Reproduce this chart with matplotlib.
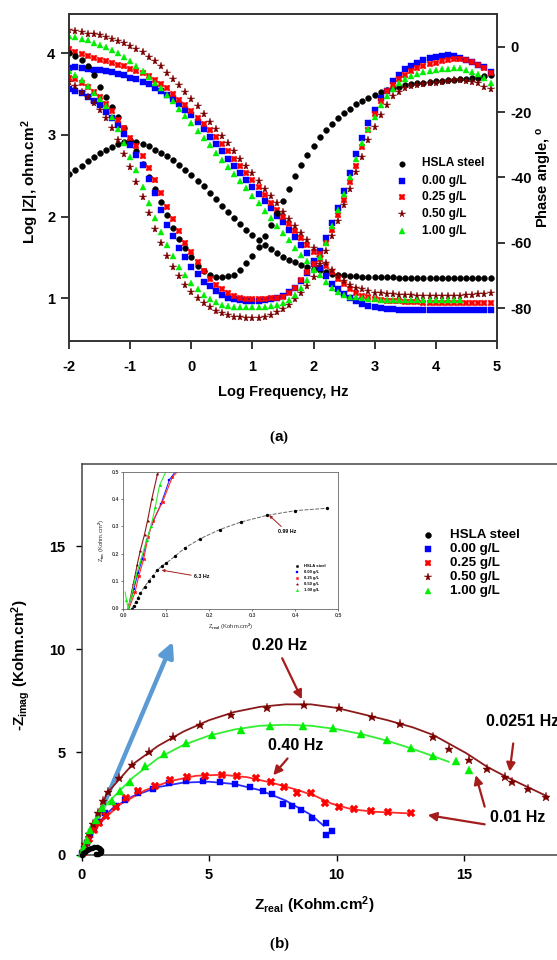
import matplotlib
matplotlib.use('Agg')
import matplotlib.pyplot as plt

plt.rcParams['font.family'] = ['Liberation Sans', 'DejaVu Sans']
plt.rcParams['font.weight'] = 'bold'
plt.rcParams['mathtext.fontset'] = 'custom'
plt.rcParams['mathtext.rm'] = 'Liberation Sans:bold'
plt.rcParams['mathtext.bf'] = 'Liberation Sans:bold'
plt.rcParams['mathtext.it'] = 'Liberation Sans:bold'
plt.rcParams['mathtext.default'] = 'bf'
plt.rcParams['axes.unicode_minus'] = False

# ---------------- data: Bode plot (a) ----------------
series_labels = ['HSLA steel', '0.00 g/L', '0.25 g/L', '0.50 g/L', '1.00 g/L']

log_freq = [-2.0, -1.9, -1.8, -1.7, -1.6, -1.5, -1.4, -1.3, -1.2, -1.1,
            -1.0, -0.9, -0.8, -0.7, -0.6, -0.5, -0.4, -0.3, -0.2, -0.1,
            0.0, 0.1, 0.2, 0.3, 0.4, 0.5, 0.6, 0.7, 0.8, 0.9,
            1.0, 1.1, 1.2, 1.3, 1.4, 1.5, 1.6, 1.7, 1.8, 1.9,
            2.0, 2.1, 2.2, 2.3, 2.4, 2.5, 2.6, 2.7, 2.8, 2.9,
            3.0, 3.1, 3.2, 3.3, 3.4, 3.5, 3.6, 3.7, 3.8, 3.9,
            4.0, 4.1, 4.2, 4.3, 4.4, 4.5, 4.6, 4.7, 4.8, 4.9]

hsla_logz = [2.52, 2.57, 2.62, 2.68, 2.73, 2.78, 2.82, 2.85, 2.89, 2.91,
             2.92, 2.91, 2.89, 2.86, 2.82, 2.78, 2.74, 2.69, 2.63, 2.57,
             2.51, 2.44, 2.37, 2.29, 2.21, 2.13, 2.06, 1.98, 1.91, 1.84,
             1.77, 1.71, 1.65, 1.60, 1.55, 1.51, 1.47, 1.44, 1.41, 1.38,
             1.36, 1.34, 1.32, 1.30, 1.29, 1.28, 1.27, 1.27, 1.265, 1.26,
             1.26, 1.26, 1.255, 1.255, 1.25, 1.25, 1.25, 1.25, 1.25, 1.25,
             1.25, 1.25, 1.25, 1.25, 1.25, 1.25, 1.25, 1.25, 1.25, 1.25]
blue_logz = [3.82, 3.83, 3.82, 3.81, 3.80, 3.79, 3.78, 3.77, 3.75, 3.73,
             3.70, 3.68, 3.65, 3.62, 3.58, 3.54, 3.49, 3.44, 3.38, 3.31,
             3.24, 3.16, 3.07, 2.98, 2.89, 2.80, 2.71, 2.62, 2.53, 2.45,
             2.36, 2.28, 2.19, 2.10, 2.01, 1.93, 1.84, 1.75, 1.65, 1.55,
             1.46, 1.37, 1.27, 1.18, 1.11, 1.05, 1.00, 0.96, 0.93, 0.91,
             0.89, 0.88, 0.87, 0.87, 0.86, 0.86, 0.86, 0.86, 0.86, 0.86,
             0.86, 0.86, 0.86, 0.86, 0.86, 0.86, 0.86, 0.86, 0.86, 0.86]
red_logz = [4.05, 4.02, 3.99, 3.96, 3.94, 3.92, 3.90, 3.88, 3.86, 3.84,
            3.81, 3.78, 3.76, 3.72, 3.67, 3.62, 3.57, 3.50, 3.43, 3.37,
            3.29, 3.21, 3.13, 3.06, 2.97, 2.89, 2.80, 2.71, 2.62, 2.53,
            2.45, 2.36, 2.26, 2.17, 2.08, 2.00, 1.91, 1.82, 1.74, 1.65,
            1.56, 1.48, 1.40, 1.32, 1.24, 1.17, 1.11, 1.06, 1.03, 1.01,
            0.99, 0.98, 0.97, 0.96, 0.96, 0.95, 0.95, 0.95, 0.94, 0.94,
            0.94, 0.94, 0.94, 0.94, 0.94, 0.94, 0.94, 0.94, 0.94, 0.94]
maroon_logz = [4.28, 4.27, 4.26, 4.24, 4.23, 4.22, 4.20, 4.17, 4.15, 4.12,
               4.09, 4.05, 4.01, 3.95, 3.90, 3.84, 3.76, 3.69, 3.61, 3.53,
               3.44, 3.35, 3.25, 3.16, 3.07, 2.99, 2.90, 2.80, 2.71, 2.62,
               2.53, 2.44, 2.34, 2.25, 2.16, 2.06, 1.97, 1.88, 1.80, 1.71,
               1.61, 1.51, 1.43, 1.35, 1.27, 1.21, 1.16, 1.13, 1.11, 1.09,
               1.07, 1.06, 1.05, 1.05, 1.04, 1.04, 1.04, 1.03, 1.03, 1.03,
               1.03, 1.03, 1.03, 1.03, 1.03, 1.04, 1.04, 1.05, 1.05, 1.06]
green_logz = [4.21, 4.20, 4.18, 4.16, 4.13, 4.10, 4.07, 4.04, 4.00, 3.95,
              3.90, 3.84, 3.78, 3.71, 3.64, 3.57, 3.49, 3.41, 3.32, 3.23,
              3.14, 3.05, 2.96, 2.87, 2.78, 2.69, 2.61, 2.52, 2.43, 2.35,
              2.25, 2.16, 2.07, 1.98, 1.89, 1.80, 1.71, 1.62, 1.53, 1.45,
              1.36, 1.28, 1.20, 1.13, 1.08, 1.04, 1.02, 1.01, 1.00, 0.99,
              0.99, 0.98, 0.98, 0.98, 0.98, 0.98, 0.98, 0.98, 0.98, 0.98,
              0.98, 0.98, 0.98, 0.98, 0.98]

hsla_phase = [-2.0, -2.8, -4.1, -5.9, -8.7, -12.4, -15.3, -18.6, -21.6, -25.0,
              -28.5, -31.8, -35.9, -39.8, -43.5, -47.5, -51.5, -55.4, -58.9, -61.7,
              -64.4, -67.0, -68.8, -69.9, -70.5, -70.6, -70.3, -69.8, -68.3, -66.3,
              -64.0, -61.2, -58.1, -54.5, -51.0, -47.2, -43.6, -39.6, -36.2, -33.3,
              -30.3, -27.8, -25.5, -23.6, -21.9, -20.4, -19.0, -17.6, -16.5, -15.6,
              -14.8, -14.0, -13.3, -12.7, -12.2, -11.8, -11.5, -11.2, -11.0, -10.8,
              -10.6, -10.5, -10.3, -10.2, -10.0, -9.9, -9.7, -9.5, -9.0, -8.7]
blue_phase = [-13.0, -13.5, -14.3, -15.3, -16.6, -17.8, -19.9, -21.9, -24.0, -26.8,
              -30.1, -33.1, -36.2, -40.5, -44.9, -49.9, -54.5, -57.8, -61.7, -64.5,
              -67.3, -69.6, -71.9, -73.4, -74.9, -75.9, -76.8, -77.3, -77.5, -77.7,
              -77.8, -77.8, -77.6, -77.2, -76.8, -76.2, -75.2, -73.8, -71.8, -69.3,
              -66.4, -62.5, -58.5, -54.0, -49.5, -44.2, -38.6, -32.9, -28.1, -23.5,
              -19.4, -15.8, -13.6, -10.5, -8.7, -6.9, -5.9, -4.9, -4.1, -3.4,
              -3.1, -2.8, -2.6, -2.9, -3.4, -4.1, -4.8, -5.6, -6.3, -7.7]
red_phase = [-9.5, -10.0, -11.0, -12.2, -13.8, -15.5, -17.5, -19.8, -22.3, -25.0,
             -28.0, -30.5, -33.5, -37.0, -40.7, -44.7, -49.0, -52.9, -56.5, -60.0,
             -63.0, -66.0, -68.7, -71.0, -72.8, -74.3, -75.5, -76.4, -76.9, -77.2,
             -77.3, -77.3, -77.2, -77.0, -76.8, -76.5, -75.5, -74.0, -71.5, -69.0,
             -66.5, -63.5, -60.0, -56.0, -51.5, -47.0, -41.5, -36.5, -30.6, -25.5,
             -20.7, -16.5, -13.5, -11.7, -10.0, -8.7, -7.6, -6.6, -5.8, -5.2,
             -4.9, -4.4, -4.0, -3.8, -3.9, -4.2, -4.6, -5.5, -6.6, -8.2]
maroon_phase = [-10.7, -12.0, -13.8, -15.3, -17.3, -19.4, -21.9, -25.0, -28.5, -32.8,
                -36.7, -41.3, -45.9, -51.0, -55.9, -60.0, -64.0, -67.3, -70.1, -72.9,
                -75.1, -77.0, -78.5, -79.7, -80.8, -81.5, -82.1, -82.6, -82.8, -82.9,
                -82.9, -82.9, -82.6, -82.1, -81.3, -80.3, -79.0, -77.3, -75.5, -73.2,
                -70.5, -66.5, -62.5, -58.0, -53.5, -48.5, -43.6, -38.5, -33.7, -28.5,
                -24.5, -20.9, -17.9, -15.1, -13.8, -12.6, -12.1, -11.6, -11.3, -11.1,
                -11.0, -10.7, -10.4, -10.2, -10.2, -10.4, -10.7, -11.2, -12.3, -13.1]
green_phase = [-7.6, -8.7, -10.2, -12.0, -14.1, -16.0, -18.3, -21.6, -25.3, -29.6,
               -33.8, -37.7, -43.1, -47.7, -52.5, -56.6, -60.7, -64.2, -67.3, -69.8,
               -72.2, -74.2, -75.9, -77.3, -78.3, -79.0, -79.5, -79.7, -79.8, -79.8,
               -79.8, -79.8, -79.7, -79.4, -79.0, -78.5, -77.5, -76.0, -74.0, -71.5,
               -68.5, -64.5, -60.0, -55.0, -50.0, -45.0, -40.0, -34.5, -29.5, -25.3,
               -21.4, -17.9, -15.1, -13.0, -11.2, -9.9, -9.0, -8.4, -7.9, -7.5,
               -7.2, -6.9, -6.7, -6.6, -6.6, -7.2, -7.7, -8.4, -9.7, -11.2]

# ---------------- data: Nyquist plot (b) ----------------
hsla_zr = [0.02, 0.06, 0.12, 0.20, 0.30, 0.40, 0.50, 0.60, 0.68, 0.74, 0.77, 0.76, 0.72, 0.65, 0.58]
hsla_zi = [0.00, 0.08, 0.16, 0.24, 0.31, 0.35, 0.37, 0.37, 0.34, 0.29, 0.22, 0.15, 0.09, 0.05, 0.04]

blue_zr = [0.03, 0.10, 0.20, 0.35, 0.50, 0.70, 0.92, 1.34, 1.72, 2.22, 2.82, 3.44, 4.10, 4.76,
           5.42, 6.02, 6.60, 7.10, 7.49, 7.90, 8.24, 8.60, 9.05, 9.58, 9.82, 9.58]
blue_zi = [0.05, 0.30, 0.60, 0.95, 1.25, 1.60, 2.05, 2.39, 2.68, 3.00, 3.20, 3.50, 3.62, 3.60,
           3.57, 3.47, 3.31, 3.12, 2.96, 2.47, 2.39, 2.20, 1.82, 1.55, 1.18, 0.99]
blue_fit_zr = [0.0, 0.3, 0.7, 1.2, 2.0, 3.0, 4.0, 5.0, 6.0, 7.0, 8.0, 9.0, 9.5]
blue_fit_zi = [0.0, 0.9, 1.6, 2.25, 2.85, 3.3, 3.52, 3.56, 3.45, 3.15, 2.65, 1.95, 1.42]

red_zr = [0.05, 0.15, 0.30, 0.50, 0.70, 0.95, 1.34, 1.73, 2.23, 2.87, 3.49, 4.15, 4.85, 5.50,
          6.11, 6.83, 7.45, 7.94, 8.47, 8.99, 9.54, 10.10, 10.67, 11.35, 12.00, 12.94]
red_zi = [0.10, 0.40, 0.80, 1.20, 1.55, 1.90, 2.35, 2.75, 3.12, 3.37, 3.64, 3.80, 3.86, 3.90,
          3.83, 3.72, 3.53, 3.29, 3.02, 2.99, 2.54, 2.35, 2.23, 2.15, 2.10, 2.02]
red_fit_zr = [0.0, 0.3, 0.8, 1.5, 2.5, 3.5, 4.5, 5.5, 6.5, 7.5, 8.5, 9.2, 9.8, 10.6, 11.5, 12.9]
red_fit_zi = [0.0, 0.8, 1.65, 2.45, 3.15, 3.6, 3.85, 3.9, 3.78, 3.5, 3.15, 2.85, 2.5, 2.22, 2.1, 2.02]

maroon_zr = [0.05, 0.15, 0.30, 0.45, 0.65, 0.85, 1.05, 1.46, 1.98, 2.65, 3.58, 4.63, 5.88, 7.27,
             8.71, 10.10, 11.40, 12.50, 13.80, 14.40, 15.20, 15.90, 16.60, 16.90, 17.50, 18.20]
maroon_zi = [0.20, 0.55, 1.00, 1.50, 2.05, 2.60, 3.07, 3.72, 4.37, 5.01, 5.74, 6.31, 6.80, 7.12,
             7.31, 7.12, 6.71, 6.39, 5.71, 5.13, 4.64, 4.20, 3.80, 3.56, 3.19, 2.83]
maroon_fit_zr = [0.0, 0.5, 1.0, 2.0, 3.0, 4.0, 5.0, 6.0, 7.0, 8.0, 9.0, 10.0, 11.0, 12.0,
                 13.0, 13.8, 14.5, 15.1, 15.9, 16.7, 17.5, 18.3]
maroon_fit_zi = [0.0, 1.6, 3.0, 4.4, 5.3, 6.0, 6.55, 6.95, 7.2, 7.32, 7.32, 7.15, 6.85, 6.55,
                 6.2, 5.83, 5.35, 4.94, 4.29, 3.77, 3.3, 2.83]

green_zr = [0.03, 0.10, 0.20, 0.35, 0.55, 0.81, 1.20, 1.50, 1.90, 2.49, 3.23, 4.08, 5.13, 6.27,
            7.40, 8.67, 9.87, 10.95, 11.97, 12.92, 13.77, 14.68, 15.21]
green_zi = [0.10, 0.40, 0.75, 1.20, 1.70, 2.27, 2.64, 3.10, 3.56, 4.32, 4.89, 5.45, 5.83, 6.07,
            6.28, 6.28, 6.15, 5.87, 5.58, 5.21, 4.82, 4.58, 4.13]
green_fit_zr = [0.0, 0.4, 1.0, 2.0, 3.0, 4.0, 5.0, 6.0, 7.0, 8.0, 9.0, 10.0, 11.0, 12.0, 13.0, 13.8, 14.4]
green_fit_zi = [0.0, 1.3, 2.5, 3.75, 4.7, 5.35, 5.8, 6.1, 6.28, 6.33, 6.28, 6.12, 5.87, 5.55, 5.15, 4.8, 4.53]

# ---------------- data: inset (zoom near origin) ----------------
in_hsla_zr = [0.02, 0.025, 0.03, 0.035, 0.04, 0.05, 0.06, 0.07, 0.08, 0.09, 0.10, 0.12,
              0.145, 0.18, 0.225, 0.275, 0.335, 0.40, 0.475]
in_hsla_zi = [0.0, 0.01, 0.025, 0.04, 0.055, 0.08, 0.10, 0.12, 0.14, 0.155, 0.165, 0.19,
              0.222, 0.255, 0.288, 0.316, 0.34, 0.357, 0.366]
in_blue_zr = [0.012, 0.025, 0.035, 0.045, 0.055, 0.068, 0.088, 0.108, 0.122]
in_blue_zi = [0.0, 0.07, 0.13, 0.18, 0.25, 0.31, 0.38, 0.47, 0.5]
in_red_zr = [0.014, 0.028, 0.037, 0.048, 0.058, 0.070, 0.092, 0.115, 0.127]
in_red_zi = [0.0, 0.06, 0.12, 0.18, 0.26, 0.32, 0.39, 0.48, 0.5]
in_maroon_zr = [0.012, 0.020, 0.024, 0.028, 0.033, 0.040, 0.050, 0.057, 0.067, 0.080, 0.084]
in_maroon_zi = [0.0, 0.06, 0.09, 0.12, 0.16, 0.21, 0.27, 0.32, 0.40, 0.49, 0.5]
in_green_zr = [0.005, 0.008, 0.012, 0.020, 0.030, 0.040, 0.055, 0.065, 0.075, 0.085, 0.10]
in_green_zi = [0.06, 0.03, 0.0, 0.05, 0.12, 0.17, 0.25, 0.30, 0.37, 0.45, 0.5]

# ---------------- styles ----------------
colors = ['black', '#0000ff', '#ff0000', '#7a0000', '#00ee00']
line_colors = ['#444444', '#2b2bff', '#ff2a2a', '#8b1a1a', '#33ee33']
markers = ['o', 's', 'X', '*', '^']
msize_top = [4.2, 3.9, 4.6, 5.8, 4.5]
msize_bot = [5.0, 5.0, 5.6, 6.8, 5.6]
arrow_red = '#a51c1c'

W, H = 557.0, 960.0
def fx(px):
    return px / W
def fy(py):
    return 1.0 - py / H

fig = plt.figure(figsize=(W / 100, H / 100), dpi=100)
fig.patch.set_facecolor('white')

# ======================= panel (a) =======================
ax1 = fig.add_axes([fx(69.3), fy(340.7), (496.7 - 69.3) / W, (340.7 - 14.0) / H])
ax1.set_xlim(-2, 5)
ax1.set_ylim(0.48, 4.48)
ax2 = ax1.twinx()
ax2.set_ylim(-90, 10)

logz_sets = [hsla_logz, blue_logz, red_logz, maroon_logz, green_logz]
phase_sets = [hsla_phase, blue_phase, red_phase, maroon_phase, green_phase]
for i in range(5):
    n = len(logz_sets[i])
    ax1.plot(log_freq[:n], logz_sets[i], linestyle='none', marker=markers[i],
             color=colors[i], markersize=msize_top[i], markeredgewidth=0.3)
    ax2.plot(log_freq, phase_sets[i], linestyle='none', marker=markers[i],
             color=colors[i], markersize=msize_top[i], markeredgewidth=0.3)

for ax in (ax1, ax2):
    for s in ax.spines.values():
        s.set_linewidth(1.2)
        s.set_color('#333333')
ax1.set_xticks([-2, -1, 0, 1, 2, 3, 4, 5])
ax1.set_yticks([1, 2, 3, 4])
ax2.set_yticks([-80, -60, -40, -20, 0])
ax1.tick_params(axis='x', direction='out', length=6, width=1.1, pad=8, labelsize=10.5)
ax1.tick_params(axis='y', direction='out', length=6, width=1.1, pad=4, labelsize=10.5)
ax2.tick_params(axis='y', direction='out', length=6, width=1.1, pad=4, labelsize=10.5)
for lab in ax1.get_xticklabels() + ax1.get_yticklabels() + ax2.get_yticklabels():
    lab.set_fontweight('bold')

fig.text(fx(283), fy(392), 'Log Frequency, Hz', ha='center', va='center',
         fontsize=10.5, fontweight='bold')
fig.text(fx(30), fy(182), r'Log |Z|, ohm.cm$^{2}$', ha='center', va='center',
         rotation=90, fontsize=11, fontweight='bold')
fig.text(fx(554), fy(177), r'Phase angle, $^{o}$', ha='right', va='center',
         rotation=90, fontsize=10.5, fontweight='bold')

# legend (a)
leg_rows_a = [163.5, 180.7, 197.3, 214.0, 230.7]
for i in range(5):
    ax1.plot([fx(401.5)], [fy(leg_rows_a[i])], transform=fig.transFigure, clip_on=False,
             linestyle='none', marker=markers[i], color=colors[i],
             markersize=msize_top[i] * 0.95, markeredgewidth=0.3)
    fig.text(fx(421.5), fy(leg_rows_a[i]), series_labels[i], ha='left', va='center',
             fontsize=8.6, fontweight='bold')

fig.text(fx(279), fy(437), r'($\mathbf{a}$)', ha='center', va='center', fontsize=11,
         family='Liberation Serif')

# ======================= panel (b) =======================
ax3 = fig.add_axes([fx(81.5), fy(855.0), 20 * 25.5 / W, (855.0 - 464.0) / H])
ax3.set_xlim(0, 20)
ax3.set_ylim(0, 19)
zr_sets = [hsla_zr, blue_zr, red_zr, maroon_zr, green_zr]
zi_sets = [hsla_zi, blue_zi, red_zi, maroon_zi, green_zi]
fit_zr = [None, blue_fit_zr, red_fit_zr, maroon_fit_zr, green_fit_zr]
fit_zi = [None, blue_fit_zi, red_fit_zi, maroon_fit_zi, green_fit_zi]

ax3.plot(hsla_zr, hsla_zi, color='black', linewidth=2.6, zorder=3, clip_on=False)
for i in range(1, 5):
    ax3.plot(fit_zr[i], fit_zi[i], color=line_colors[i], linewidth=1.3, zorder=2)
for i in range(1, 5):
    ax3.plot(zr_sets[i], zi_sets[i], linestyle='none', marker=markers[i], color=colors[i],
             markersize=msize_bot[i], markeredgewidth=0.3, zorder=4, clip_on=False)
ax3.plot(hsla_zr, hsla_zi, linestyle='none', marker='o', color='black', markersize=3,
         zorder=5, clip_on=False)

for s in ax3.spines.values():
    s.set_linewidth(1.1)
    s.set_color('#444444')
ax3.set_xticks([0, 5, 10, 15])
ax3.set_yticks([0, 5, 10, 15])
ax3.tick_params(direction='out', length=4.5, width=1.0, labelsize=10.5)
ax3.tick_params(axis='x', pad=5)
ax3.tick_params(axis='y', pad=7)
for lab in ax3.get_xticklabels() + ax3.get_yticklabels():
    lab.set_fontweight('bold')

fig.text(fx(314), fy(905), r'Z$_{real}$ (Kohm.cm$^{2}$)', ha='center', va='center',
         fontsize=11, fontweight='bold')
fig.text(fx(21), fy(665), r'-Z$_{imag}$ (Kohm.cm$^{2}$)', ha='center', va='center',
         rotation=90, fontsize=11, fontweight='bold')

# big blue arrow
ax3.annotate('', xy=(3.58, 10.36), xytext=(0.07, 0.1),
             arrowprops=dict(arrowstyle='-|>', color='#5b9bd5', lw=3.2, mutation_scale=22,
                             shrinkA=0, shrinkB=0), zorder=1)

# frequency annotations
ann_kw = dict(fontsize=11.5, fontweight='bold', ha='center', va='center')
ax3.text(7.75, 10.2, '0.20 Hz', **ann_kw)
ax3.text(8.4, 5.3, '0.40 Hz', **ann_kw)
ax3.text(15.85, 6.47, '0.0251 Hz', fontsize=11.5, fontweight='bold', ha='left', va='center')
ax3.text(16.0, 1.83, '0.01 Hz', fontsize=11.5, fontweight='bold', ha='left', va='center')
arr = dict(arrowstyle='-|>', color=arrow_red, lw=1.6, mutation_scale=13, shrinkA=0, shrinkB=0)
ax3.annotate('', xy=(8.64, 7.57), xytext=(7.87, 9.56), arrowprops=arr)
ax3.annotate('', xy=(7.52, 3.88), xytext=(8.08, 4.69), arrowprops=arr)
ax3.annotate('', xy=(16.79, 4.05), xytext=(16.93, 5.42), arrowprops=arr)
ax3.annotate('', xy=(15.46, 3.88), xytext=(15.81, 2.35), arrowprops=arr)
ax3.annotate('', xy=(13.58, 1.94), xytext=(15.81, 1.49), arrowprops=arr)

# legend (b)
leg_rows_b = [535.0, 549.3, 563.0, 577.0, 591.0]
for i in range(5):
    ax3.plot([fx(428.3)], [fy(leg_rows_b[i])], transform=fig.transFigure, clip_on=False,
             linestyle='none', marker=markers[i], color=colors[i],
             markersize=msize_bot[i] * 0.85, markeredgewidth=0.3)
    fig.text(fx(450), fy(leg_rows_b[i]), series_labels[i], ha='left', va='center',
             fontsize=9.6, fontweight='bold')

# ---------------- inset ----------------
ax4 = fig.add_axes([fx(123), fy(608.5), 215 / W, 137 / H])
ax4.set_xlim(0, 0.5)
ax4.set_ylim(0, 0.5)
ax4.plot(in_hsla_zr, in_hsla_zi, color='#666666', linewidth=0.7, linestyle=(0, (4, 1.5)))
ax4.plot(in_hsla_zr, in_hsla_zi, linestyle='none', marker='o', color='black', markersize=1.4)
in_zr = [in_blue_zr, in_red_zr, in_maroon_zr, in_green_zr]
in_zi = [in_blue_zi, in_red_zi, in_maroon_zi, in_green_zi]
for k in range(4):
    i = k + 1
    ax4.plot(in_zr[k], in_zi[k], color=line_colors[i], linewidth=0.8)
    ax4.plot(in_zr[k][1:-1], in_zi[k][1:-1], linestyle='none', marker=markers[i],
             color=colors[i], markersize=2.0, markeredgewidth=0.2)
for s in ax4.spines.values():
    s.set_linewidth(0.6)
    s.set_color('#666666')
ticks_in = [0.0, 0.1, 0.2, 0.3, 0.4, 0.5]
ax4.set_xticks(ticks_in)
ax4.set_yticks(ticks_in)
ax4.set_xticklabels(['%.1f' % t for t in ticks_in])
ax4.set_yticklabels(['%.1f' % t for t in ticks_in])
ax4.tick_params(direction='out', length=1.5, width=0.5, labelsize=3.8, pad=1.5,
                colors='#444444')
ax4.set_xlabel(r'Z$_{real}$ (Kohm.cm$^{2}$)', fontsize=4.2, labelpad=3, color='#333333')
ax4.set_ylabel(r'Z$_{im}$ (Kohm.cm$^{2}$)', fontsize=4.2, labelpad=3, color='#333333')
small_arr = dict(arrowstyle='-|>', color=arrow_red, lw=0.7, mutation_scale=4, shrinkA=0, shrinkB=0)
ax4.annotate('6.3 Hz', xy=(0.09, 0.14), xytext=(0.165, 0.115), fontsize=3.8,
             fontweight='bold', ha='left', va='center', arrowprops=small_arr)
ax4.annotate('0.99 Hz', xy=(0.34, 0.34), xytext=(0.36, 0.28), fontsize=3.8,
             fontweight='bold', ha='left', va='center', arrowprops=small_arr)
for i in range(5):
    yy = 0.155 - i * 0.022
    ax4.plot([0.405], [yy], linestyle='none', marker=markers[i], color=colors[i],
             markersize=1.8, markeredgewidth=0.2)
    ax4.text(0.42, yy, series_labels[i], fontsize=3.0, fontweight='bold',
             ha='left', va='center')

fig.text(fx(279), fy(944), r'($\mathbf{b}$)', ha='center', va='center', fontsize=11,
         family='Liberation Serif')

fig.savefig('out.png', dpi=100, facecolor='white')
